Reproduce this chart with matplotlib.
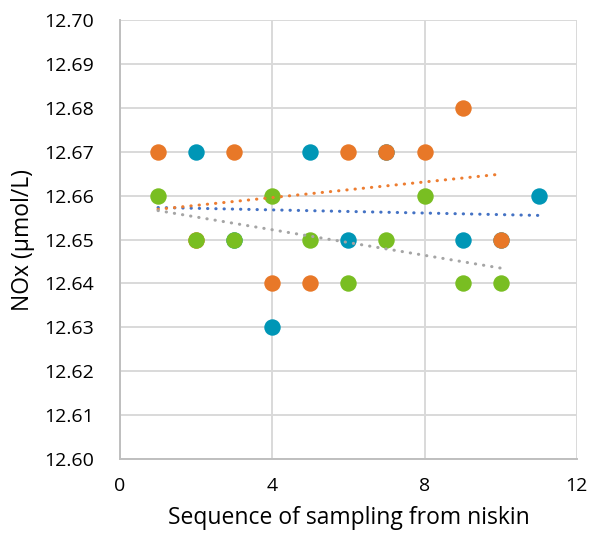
import matplotlib.pyplot as plt

plt.rcParams["font.family"] = ["Open Sans", "DejaVu Sans"]

# sampling sequence and NOx values (umol/L)
x_teal = [2, 3, 4, 5, 6, 7, 9, 10, 11]
y_teal = [12.67, 12.65, 12.63, 12.67, 12.65, 12.67, 12.65, 12.65, 12.66]

x_orange = [1, 2, 3, 4, 5, 6, 7, 8, 9, 10]
y_orange = [12.67, 12.65, 12.67, 12.64, 12.64, 12.67, 12.67, 12.67, 12.68, 12.65]

x_green = [1, 2, 3, 4, 5, 6, 7, 8, 9, 10]
y_green = [12.66, 12.65, 12.65, 12.66, 12.65, 12.64, 12.65, 12.66, 12.64, 12.64]

# linear trendline end points
trend_blue_x = [1, 11]
trend_blue_y = [12.6573, 12.6555]
trend_orange_x = [1, 10]
trend_orange_y = [12.6569, 12.6649]
trend_gray_x = [1, 10]
trend_gray_y = [12.6566, 12.6435]

xticks = [0, 4, 8, 12]
yticks = [12.60 + 0.01 * i for i in range(11)]

fig = plt.figure(figsize=(5.91, 5.42), dpi=100)
ax = fig.add_axes([0.203, 0.153, 0.773, 0.81])

ax.set_xlim(0, 12)
ax.set_ylim(12.60, 12.70)
ax.set_xticks(xticks)
ax.set_yticks(yticks)
ax.set_yticklabels([f"{v:.2f}" for v in yticks])
ax.grid(True, color="#d9d9d9", linewidth=1.4, zorder=0)
ax.set_axisbelow(True)
ax.tick_params(length=0, labelsize=14, colors="#000000")
ax.tick_params(axis="y", pad=19)
ax.tick_params(axis="x", pad=13)

for side in ["top", "right"]:
    ax.spines[side].set_visible(False)
for side in ["left", "bottom"]:
    ax.spines[side].set_color("#bfbfbf")
    ax.spines[side].set_linewidth(1.4)

ms = 140
ax.scatter(x_teal, y_teal, s=ms, color="#0096b6", zorder=3, linewidths=0)
ax.scatter(x_orange, y_orange, s=ms, color="#e87828", zorder=4, linewidths=0)
ax.scatter(x_green, y_green, s=ms, color="#79be22", zorder=5, linewidths=0)

dots = (0, (0.1, 2.6))
ax.plot(trend_blue_x, trend_blue_y, color="#4472c4", lw=2.2, ls=dots,
        dash_capstyle="round", zorder=6)
ax.plot(trend_orange_x, trend_orange_y, color="#ed7d31", lw=2.2, ls=dots,
        dash_capstyle="round", zorder=6)
ax.plot(trend_gray_x, trend_gray_y, color="#a5a5a5", lw=2.2, ls=dots,
        dash_capstyle="round", zorder=6)

ax.set_xlabel("Sequence of sampling from niskin", fontsize=16.5, labelpad=8)
ax.set_ylabel("NOx (µmol/L)", fontsize=16.5, labelpad=6)

fig.savefig("out.png", dpi=100)
